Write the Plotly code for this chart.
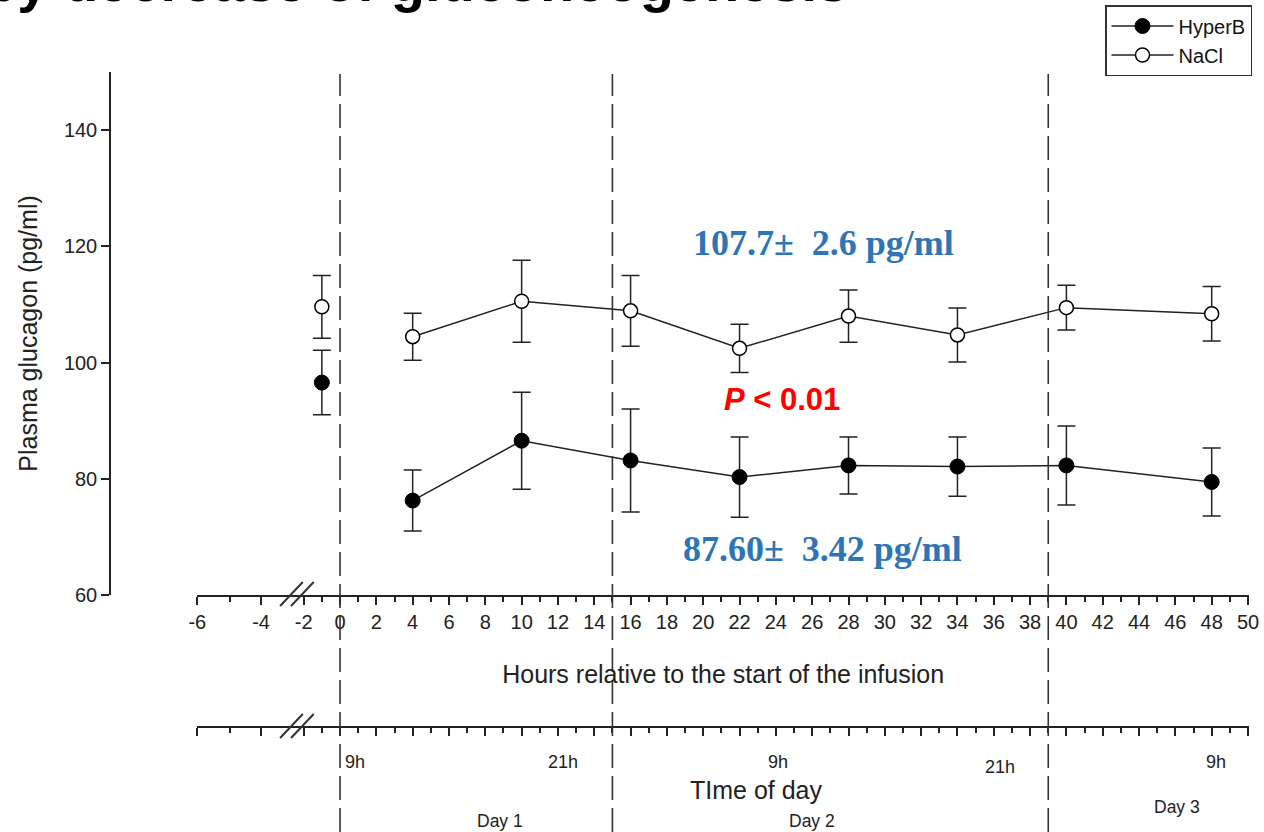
import plotly.graph_objects as go

# ---------------- data ----------------
baseline_hours = [-1]
infusion_hours = [4, 10, 16, 22, 28, 34, 40, 48]

hyperb_base = [96.55]
hyperb_base_sem = [5.55]
hyperb_vals = [76.25, 86.55, 83.15, 80.3, 82.3, 82.1, 82.3, 79.45]
hyperb_sem = [5.25, 8.35, 8.85, 6.9, 4.9, 5.1, 6.8, 5.85]

nacl_base = [109.6]
nacl_base_sem = [5.4]
nacl_vals = [104.45, 110.55, 108.9, 102.45, 108.0, 104.75, 109.45, 108.4]
nacl_sem = [4.05, 7.05, 6.1, 4.15, 4.5, 4.65, 3.85, 4.7]

day_boundaries = [0, 15, 39]
y_ticks = [60, 80, 100, 120, 140]
x_tick_labels = ["-6", "-4", "-2"] + [str(h) for h in range(0, 51, 2)]
time_hours = [0, 12, 24, 36, 48]
time_labels = ["9h", "21h", "9h", "21h", "9h"]
day_labels = ["Day 1", "Day 2", "Day 3"]

# ---------------- layout helpers ----------------
W, H = 1264, 832
FONT = "Liberation Sans, Arial, sans-serif"
INK = "#222222"

def py(px):  # pixel from top -> paper y
    return 1 - px / H

def pxx(px):  # pixel from left -> paper x
    return px / W

# broken axis: left segment positions in axis coordinates
broken_major = {"-6": -7.86, "-4": -4.35, "-2": -2.0}
major_pos = [broken_major[t] if t in broken_major else float(t) for t in x_tick_labels]
minor_pos = [-6.06] + list(range(-1, 50, 2))

fig = go.Figure()

err_style = dict(type="data", thickness=1.5, width=9, color=INK)
filled = dict(symbol="circle", size=15, color="black", line=dict(color="black", width=1))
hollow = dict(symbol="circle", size=14, color="white", line=dict(color="black", width=1.5))

fig.add_trace(go.Scatter(
    x=infusion_hours, y=hyperb_vals, name="HyperB", mode="lines+markers",
    line=dict(color="#222222", width=1.5), marker=filled,
    error_y=dict(array=hyperb_sem, **err_style), legendgroup="h"))
fig.add_trace(go.Scatter(
    x=baseline_hours, y=hyperb_base, name="HyperB", mode="markers", showlegend=False,
    marker=filled, error_y=dict(array=hyperb_base_sem, **err_style), legendgroup="h"))
fig.add_trace(go.Scatter(
    x=infusion_hours, y=nacl_vals, name="NaCl", mode="lines+markers",
    line=dict(color="#222222", width=1.5), marker=hollow,
    error_y=dict(array=nacl_sem, **err_style), legendgroup="n"))
fig.add_trace(go.Scatter(
    x=baseline_hours, y=nacl_base, name="NaCl", mode="markers", showlegend=False,
    marker=hollow, error_y=dict(array=nacl_base_sem, **err_style), legendgroup="n"))

x_dom = [pxx(197.3), pxx(1249)]
x_rng = [-7.86, 50.055]

common_x = dict(
    domain=x_dom, range=x_rng, showline=True, linecolor=INK, linewidth=1.5,
    ticks="outside", tickmode="array", tickvals=major_pos, ticklen=8, tickwidth=1.5,
    tickcolor=INK, showgrid=False, zeroline=False, automargin=False,
    minor=dict(tickmode="array", tickvals=minor_pos, ticks="outside", ticklen=5,
               tickwidth=1.5, tickcolor=INK, showgrid=False),
)

fig.update_layout(
    width=W, height=H, autosize=False,
    margin=dict(l=0, r=0, t=0, b=0, pad=0, autoexpand=False),
    paper_bgcolor="white", plot_bgcolor="white",
    font=dict(family=FONT, color=INK),
    xaxis=dict(**common_x, anchor="y", ticktext=x_tick_labels,
               tickfont=dict(size=20, color=INK),
               title=dict(text="Hours relative to the start of the infusion",
                          font=dict(size=25, color=INK), standoff=34)),
    yaxis=dict(domain=[py(595), py(72)], range=[60, 150], anchor="free", position=pxx(110),
               showline=True, linecolor=INK, linewidth=1.5, ticks="outside",
               tickvals=y_ticks, ticklen=8, tickwidth=1.5, tickcolor=INK,
               tickfont=dict(size=20, color=INK), showgrid=False, zeroline=False,
               automargin=False,
               title=dict(text="Plasma glucagon (pg/ml)", font=dict(size=25, color=INK),
                          standoff=18)),
    xaxis2=dict(**common_x, anchor="y2", showticklabels=False),
    yaxis2=dict(domain=[py(726), py(700)], range=[0, 1], visible=False, automargin=False),
    legend=dict(x=pxx(1105), y=py(5), xanchor="left", yanchor="top",
                bordercolor="#333333", borderwidth=1.5, bgcolor="white",
                font=dict(size=20, family=FONT, color="#111111"),
                tracegroupgap=0, itemwidth=62),
)

# dashed day-boundary lines
for b in day_boundaries:
    fig.add_shape(type="line", xref="x", yref="paper", x0=b, x1=b, y0=0, y1=py(74),
                  line=dict(color="#333333", width=1.6, dash="24px,8px"), layer="above")

# axis break marks on both x axes
for axis_px in (594, 726):
    for (h0, h1) in ((-3.30, -2.05), (-2.70, -1.45)):
        fig.add_shape(type="line", xref="x", yref="paper",
                      x0=h0, x1=h1, y0=py(axis_px + 12), y1=py(axis_px - 12),
                      line=dict(color="#333333", width=2))

annos = []
# time-of-day axis title
annos.append(dict(x=pxx(756), y=py(790), xref="paper", yref="paper", showarrow=False,
                  text="TIme of day", xanchor="center", yanchor="middle",
                  font=dict(size=25, family=FONT, color=INK)))
# time-of-day labels
time_shift_px = [15, 5, 2, 6, 4]
time_y_px = [762, 762, 762, 767, 762]
for h, lab, dx, ypx in zip(time_hours, time_labels, time_shift_px, time_y_px):
    annos.append(dict(x=h, xref="x2", y=py(ypx), yref="paper", text=lab, showarrow=False,
                      xshift=dx, xanchor="center", yanchor="middle",
                      font=dict(size=18, family=FONT, color=INK)))
# day labels
for lab, xh, ypx in zip(day_labels, [8.8, 26.0, 46.1], [821, 821, 807]):
    annos.append(dict(x=xh, xref="x2", y=py(ypx), yref="paper", text=lab, showarrow=False,
                      xanchor="center", yanchor="middle",
                      font=dict(size=17.5, family=FONT, color=INK)))
# mean annotations
serif = "Liberation Serif, Times New Roman, serif"
annos.append(dict(x=26.6, y=120.6, xref="x", yref="y", showarrow=False,
                  text="<b>107.7±\u00a0 2.6 pg/ml</b>",
                  font=dict(size=36, family=serif, color="#2E75B6")))
annos.append(dict(x=26.57, y=67.9, xref="x", yref="y", showarrow=False,
                  text="<b>87.60±\u00a0 3.42 pg/ml</b>",
                  font=dict(size=36, family=serif, color="#2E75B6")))
annos.append(dict(x=24.34, y=93.56, xref="x", yref="y", showarrow=False,
                  text="<b><i>P</i> &lt; 0.01</b>",
                  font=dict(size=31, family=FONT, color="#FF0000")))
# slide title (cut off at top of page, as in the source)
annos.append(dict(x=pxx(850), y=py(15), xref="paper", yref="paper", showarrow=False,
                  xanchor="right", yanchor="bottom",
                  text="<b>by decrease of gluconeogenesis</b>",
                  font=dict(size=56, family=FONT, color="black")))

fig.update_layout(annotations=annos)

fig.write_html("out.html")
